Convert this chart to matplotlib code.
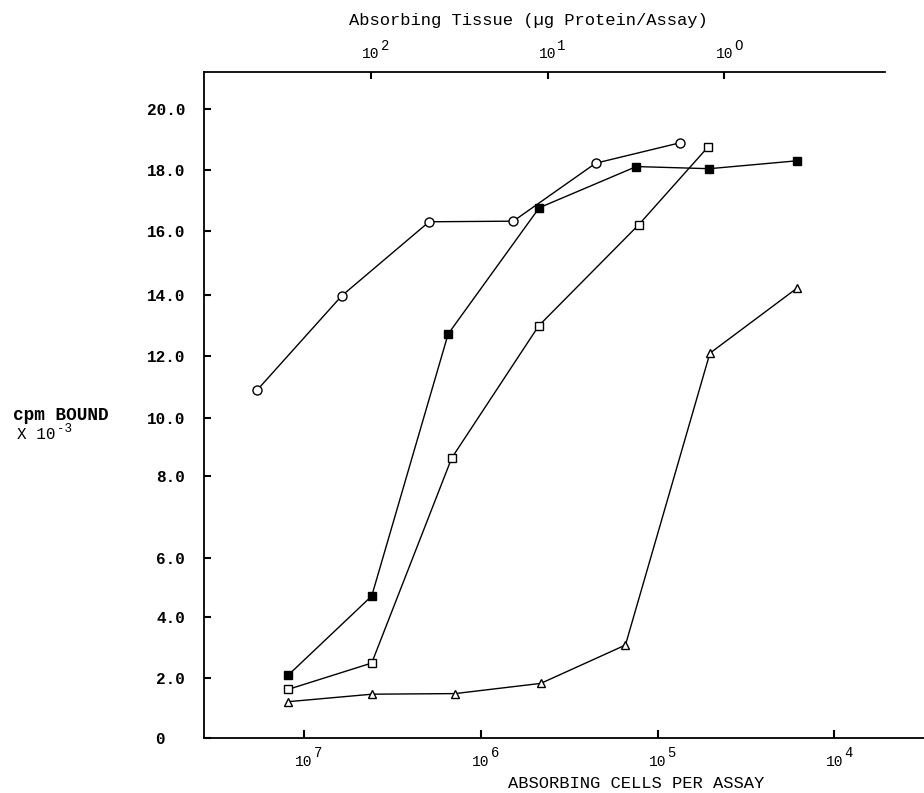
import numpy as np
import matplotlib
matplotlib.use('Agg')
import matplotlib.pyplot as plt
from matplotlib.ticker import NullLocator

plt.rcParams['font.family'] = ['Liberation Mono', 'DejaVu Sans Mono']

# --- data (cells per assay, cpm bound x 10^-3) ---
circle_cells = [1.84e7, 6.12e6, 1.96e6, 6.55e5, 2.24e5, 7.46e4]
circle_cpm = [10.9, 13.97, 16.3, 16.32, 18.22, 18.89]

filled_cells = [1.23e7, 4.14e6, 1.53e6, 4.67e5, 1.32e5, 5.1e4, 1.62e4]
filled_cpm = [2.09, 4.71, 12.72, 16.76, 18.11, 18.04, 18.30]

open_cells = [1.23e7, 4.14e6, 1.46e6, 4.70e5, 1.28e5, 5.19e4]
open_cpm = [1.62, 2.49, 8.62, 12.99, 16.20, 18.75]

tri_cells = [1.23e7, 4.13e6, 1.40e6, 4.58e5, 1.52e5, 5.06e4, 1.62e4]
tri_cpm = [1.21, 1.46, 1.48, 1.82, 3.08, 12.09, 14.22]

x_ticks = [1e7, 1e6, 1e5, 1e4]
x_exponents = ['7', '6', '5', '4']
top_ticks = [1e2, 1e1, 1e0]
top_exponents = ['2', '1', 'O']
y_ticks = [0, 2, 4, 6, 8, 10, 12, 14, 16, 18, 20]
y_ticklabels = ['0  ', '2.0', '4.0', '6.0', '8.0', '10.0', '12.0',
                '14.0', '16.0', '18.0', '20.0']

# the printed y axis is not evenly spaced, so map values through the
# drawn tick heights (pixels above the x axis)
scale_vals = [0, 2, 4, 6, 8, 10, 12, 14, 16, 18, 20, 22]
scale_pos = [0, 60, 121, 180, 262, 320, 382, 443, 507, 568, 629, 690]


def fwd(v):
    v = np.asarray(v, dtype=float)
    return np.interp(v.ravel(), scale_vals, scale_pos).reshape(v.shape)


def inv(p):
    p = np.asarray(p, dtype=float)
    return np.interp(p.ravel(), scale_pos, scale_vals).reshape(p.shape)


# cells -> ug protein conversion for the top axis
K = 10 ** 4.622

fig = plt.figure(figsize=(9.24, 7.93), dpi=100)
ax = fig.add_axes([204 / 924, 55 / 793, 720 / 924, 666 / 793])

ax.set_xscale('log')
ax.set_yscale('function', functions=(fwd, inv))

line_kw = dict(color='black', lw=1.0, mec='black', mew=1.0)
ax.plot(circle_cells, circle_cpm, marker='o', ms=6.5, mfc='white', **line_kw)
ax.plot(open_cells, open_cpm, marker='s', ms=5.5, mfc='white', **line_kw)
ax.plot(tri_cells, tri_cpm, marker='^', ms=5.5, mfc='white', **line_kw)
ax.plot(filled_cells, filled_cpm, marker='s', ms=6, mfc='black', **line_kw)

ax.set_xlim(10 ** 7.5656, 10 ** 3.4932)
ax.set_ylim(0, 21.21)

ax.set_xticks(x_ticks, labels=['10'] * len(x_ticks))
ax.xaxis.set_minor_locator(NullLocator())
ax.set_yticks(y_ticks, labels=y_ticklabels)
ax.yaxis.set_minor_locator(NullLocator())
for lab in ax.get_yticklabels():
    lab.set_fontweight('bold')

ax.tick_params(axis='x', direction='in', length=6, width=1.5, pad=12,
               labelsize=10.5)
ax.tick_params(axis='y', direction='in', length=5, width=1.5, pad=13.5,
               labelsize=11.5)

# exponents drawn nearly full size, as typed on the original
for t, e in zip(x_ticks, x_exponents):
    ax.annotate(e, xy=(t, 0), xycoords=('data', 'axes fraction'),
                xytext=(7, -5.5), textcoords='offset points',
                ha='left', va='top', fontsize=10)

ax.spines['right'].set_visible(False)
ax.spines['top'].set_visible(False)
for s in ['left', 'bottom']:
    ax.spines[s].set_linewidth(1.3)

secax = ax.secondary_xaxis('top', functions=(lambda c: c / K, lambda u: u * K))
secax.set_xticks(top_ticks, labels=['10'] * len(top_ticks))
secax.xaxis.set_minor_locator(NullLocator())
secax.tick_params(direction='in', length=5, width=1.5, pad=8, labelsize=10.5)
secax.spines['top'].set_linewidth(1.3)
secax.spines['top'].set_bounds(10 ** 7.5656 / K, 10 ** 3.714 / K)

for t, e in zip(top_ticks, top_exponents):
    ax.annotate(e, xy=(t * K, 1), xycoords=('data', 'axes fraction'),
                xytext=(7, 14), textcoords='offset points',
                ha='left', va='bottom', fontsize=10)

fig.text(528 / 924, 1 - 21 / 793, 'Absorbing Tissue (µg Protein/Assay)',
         ha='center', va='center', fontsize=12.3)
fig.text(636 / 924, 1 - 784 / 793, 'ABSORBING CELLS PER ASSAY',
         ha='center', va='center', fontsize=12.3)
fig.text(13 / 924, 1 - 415 / 793, 'cpm BOUND', ha='left', va='center',
         fontsize=12.8, fontweight='bold')
fig.text(17 / 924, 1 - 439 / 793, 'X 10', ha='left', va='baseline',
         fontsize=11.5)
fig.text(57 / 924, 1 - 432 / 793, '-3', ha='left', va='baseline',
         fontsize=9)

fig.savefig('out.png', dpi=100)
